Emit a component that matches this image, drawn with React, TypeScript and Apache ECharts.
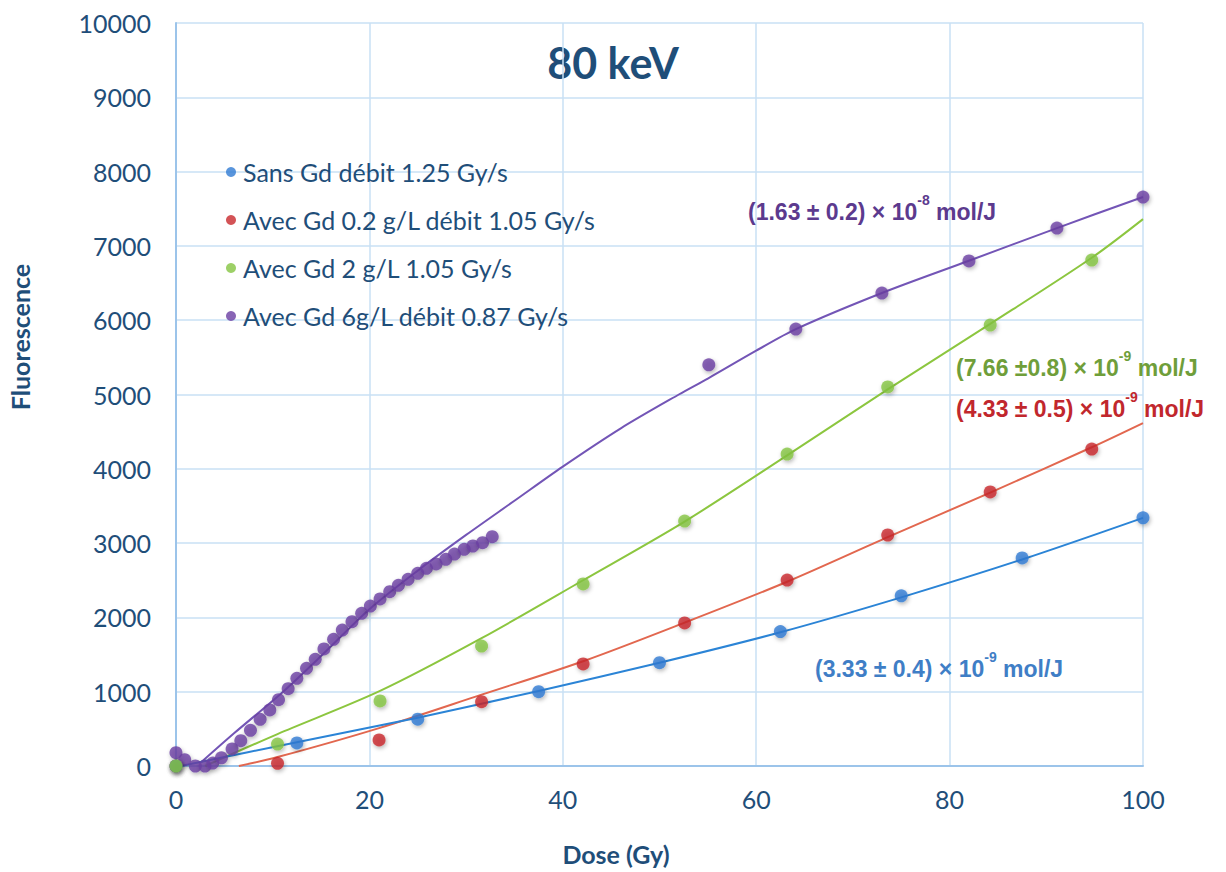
import React, { useEffect, useRef } from "react";
import * as echarts from "echarts";

// ---- data ----
const blueDose = [0, 12.5, 25, 37.5, 50, 62.5, 75, 87.5, 100];
const blueFluo = [0, 310, 630, 1000, 1390, 1810, 2290, 2800, 3340];

const redDose = [0, 10.5, 21, 31.6, 42.1, 52.6, 63.2, 73.6, 84.2, 94.7];
const redFluo = [0, 36, 350, 866, 1373, 1925, 2503, 3109, 3688, 4266];

const greenDose = [0, 10.5, 21.1, 31.6, 42.1, 52.6, 63.2, 73.6, 84.2, 94.7];
const greenFluo = [0, 296, 875, 1615, 2450, 3297, 4199, 5101, 5935, 6810];

const purpleDose = [
  0, 0.9, 2, 3, 3.8, 4.7, 5.8, 6.7, 7.7, 8.7, 9.7, 10.6, 11.6, 12.5, 13.5, 14.4, 15.3, 16.3,
  17.2, 18.2, 19.2, 20.1, 21.1, 22.1, 23.0, 24.0, 25.0, 25.9, 26.9, 27.9, 28.8, 29.8, 30.7,
  31.7, 32.7, 55.1, 64.1, 73.0, 82.0, 91.1, 100,
];
const purpleFluo = [
  180, 85, 0, 0, 40, 110, 230, 340, 480, 628, 754, 893, 1040, 1180, 1315, 1436, 1575, 1705,
  1830, 1942, 2055, 2153, 2248, 2346, 2432, 2513, 2594, 2661, 2719, 2782, 2853, 2917, 2961,
  3005, 3086, 5400, 5880, 6366, 6797, 7240, 7658,
];

// fitted trend curves
const blueFitDose = [0.5, 12.5, 25, 37.5, 50, 62.5, 75, 87.5, 100];
const blueFitFluo = [0, 320, 650, 1010, 1390, 1800, 2270, 2780, 3340];

const redFitDose = [6.5, 10.5, 21, 31.6, 42.1, 52.6, 63.2, 73.6, 84.2, 94.7, 100];
const redFitFluo = [0, 120, 510, 960, 1410, 1930, 2480, 3080, 3680, 4290, 4616];

const greenFitDose = [3, 10.5, 21.1, 31.6, 42.1, 52.6, 63.2, 73.6, 84.2, 94.7, 100];
const greenFitFluo = [0, 430, 1010, 1720, 2500, 3290, 4180, 5070, 5950, 6840, 7360];

const purpleFitDose = [2.6, 6, 10.9, 15, 20, 25, 30, 35, 40, 46, 52, 55, 60, 64.1, 73, 82, 91.1, 100];
const purpleFitFluo = [50, 440, 980, 1480, 2110, 2630, 3110, 3570, 4030, 4545, 5000, 5215, 5590, 5880, 6366, 6800, 7240, 7658];

const yTickLabels = ["0", "1000", "2000", "3000", "4000", "5000", "6000", "7000", "8000", "9000", "10000"];

const seriesNames = [
  "Sans Gd débit 1.25 Gy/s",
  "Avec Gd 0.2 g/L débit 1.05 Gy/s",
  "Avec Gd 2 g/L 1.05 Gy/s",
  "Avec Gd 6g/L débit 0.87 Gy/s",
];

const annotations = [
  { main: "(1.63 ± 0.2) × 10", exp: "-8", color: "#5C3A8E", x: 748, y: 208 },
  { main: "(7.66 ±0.8) × 10", exp: "-9", color: "#6F9E3A", x: 956, y: 364 },
  { main: "(4.33 ± 0.5) × 10", exp: "-9", color: "#C1272D", x: 956, y: 405 },
  { main: "(3.33 ± 0.4) × 10", exp: "-9", color: "#3F7EC6", x: 815, y: 665 },
];

const zip = (xs: number[], ys: number[]) => xs.map((x, i) => [x, ys[i]]);

const dotStyle = (color: string) => ({
  color,
  shadowBlur: 4,
  shadowColor: "rgba(0,0,0,0.35)",
  shadowOffsetX: 1,
  shadowOffsetY: 2,
});

export default function App() {
  const ref = useRef<HTMLDivElement>(null);
  useEffect(() => {
    if (!ref.current) return;
    const chart = echarts.init(ref.current, undefined, { renderer: "svg" });
    const axisText = "#1F4E79";
    const fitLine = (name: string, xs: number[], ys: number[], color: string) => ({
      name,
      type: "line",
      data: zip(xs, ys),
      smooth: 0.3,
      showSymbol: false,
      symbol: "none",
      silent: true,
      z: 2,
      lineStyle: { color, width: 2 },
    });
    const dots = (name: string, xs: number[], ys: number[], color: string) => ({
      name,
      type: "scatter",
      data: zip(xs, ys),
      symbol: "circle",
      symbolSize: 13,
      z: 3,
      itemStyle: dotStyle(color),
    });
    chart.setOption({
      animation: false,
      backgroundColor: "#ffffff",
      grid: { left: 176, right: 83, top: 23, bottom: 106 },
      legend: {
        data: seriesNames,
        orient: "vertical",
        left: 221,
        top: 154,
        itemWidth: 10,
        itemHeight: 10,
        itemGap: 22,
        icon: "circle",
        textStyle: {
          fontFamily: "Lato",
          fontSize: 25,
          color: axisText,
          lineHeight: 26,
          padding: [0, 0, 0, 2],
        },
      },
      xAxis: {
        type: "value",
        min: 0,
        max: 100,
        interval: 20,
        axisLine: { show: true, lineStyle: { color: "#9CC4EA", width: 2 } },
        axisTick: { show: false },
        axisLabel: { fontFamily: "Lato", fontSize: 25, color: axisText, margin: 20 },
        splitLine: { show: true, lineStyle: { color: "#C9E0F4", width: 1.5 } },
      },
      yAxis: {
        type: "value",
        min: 0,
        max: 10000,
        interval: 1000,
        axisLine: { show: true, lineStyle: { color: "#9CC4EA", width: 2 } },
        axisTick: { show: false },
        axisLabel: {
          fontFamily: "Lato",
          fontSize: 25,
          color: axisText,
          margin: 25,
          formatter: (v: number) => yTickLabels[Math.round(v / 1000)] ?? String(v),
        },
        splitLine: { show: true, lineStyle: { color: "#C9E0F4", width: 1.5 } },
      },
      series: [
        fitLine("fitPurple", purpleFitDose, purpleFitFluo, "#7355B6"),
        fitLine("fitGreen", greenFitDose, greenFitFluo, "#8CC63F"),
        fitLine("fitRed", redFitDose, redFitFluo, "#E2674F"),
        fitLine("fitBlue", blueFitDose, blueFitFluo, "#2B84D6"),
        dots(seriesNames[3], purpleDose, purpleFluo, "#6A3FA3"),
        dots(seriesNames[1], redDose, redFluo, "#C8282C"),
        dots(seriesNames[0], blueDose, blueFluo, "#2F7BD3"),
        dots(seriesNames[2], greenDose, greenFluo, "#85C441"),
      ],
      graphic: [
        {
          type: "text",
          x: 613,
          y: 62,
          style: {
            text: "80 keV",
            fontFamily: "Lato",
            fontWeight: "bold",
            fontSize: 43,
            fill: axisText,
            align: "center",
            verticalAlign: "middle",
          },
        },
        {
          type: "text",
          x: 20,
          y: 337,
          rotation: Math.PI / 2,
          style: {
            text: "Fluorescence",
            fontFamily: "Lato",
            fontWeight: "bold",
            fontSize: 25,
            fill: axisText,
            align: "center",
            verticalAlign: "middle",
          },
        },
        {
          type: "text",
          x: 616,
          y: 854,
          style: {
            text: "Dose (Gy)",
            fontFamily: "Lato",
            fontWeight: "bold",
            fontSize: 25,
            fill: axisText,
            align: "center",
            verticalAlign: "middle",
          },
        },
        ...annotations.map((a) => ({
          type: "text",
          x: a.x,
          y: a.y,
          z: 10,
          style: {
            text: `{m|${a.main}}{s|${a.exp}}{m| mol/J}`,
            align: "left",
            verticalAlign: "middle",
            rich: {
              m: {
                fontFamily: "Liberation Sans",
                fontWeight: "bold",
                fontSize: 23,
                lineHeight: 30,
                fill: a.color,
                verticalAlign: "bottom",
              },
              s: {
                fontFamily: "Liberation Sans",
                fontWeight: "bold",
                fontSize: 14,
                lineHeight: 14,
                fill: a.color,
                verticalAlign: "top",
              },
            },
          },
        })),
      ],
    });
    return () => chart.dispose();
  }, []);
  return (
    <div
      ref={ref}
      style={{ position: "fixed", left: 0, top: 0, width: 1226, height: 872, background: "#fff" }}
    />
  );
}
